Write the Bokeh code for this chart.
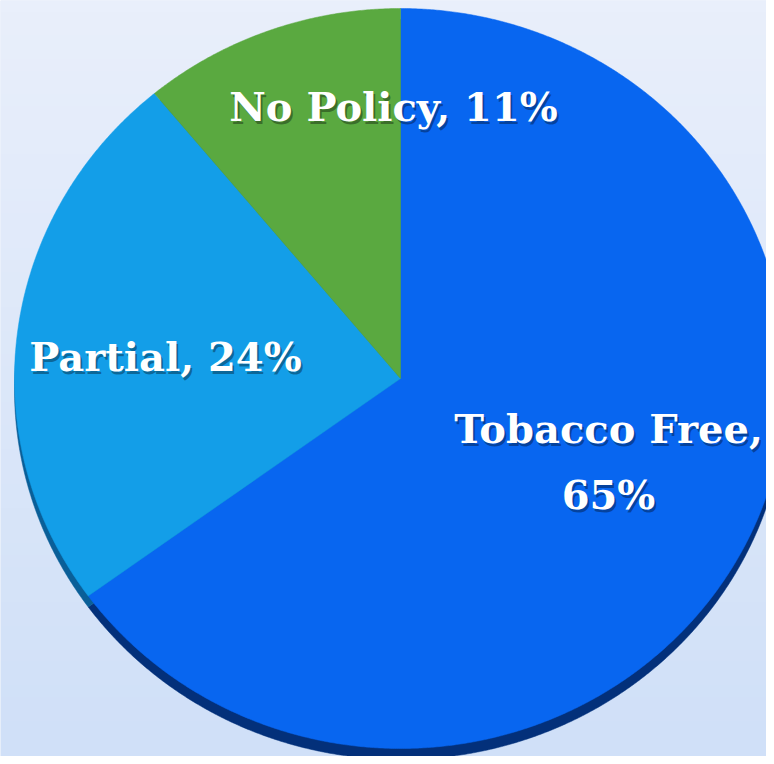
import numpy as np
from bokeh.plotting import figure
from bokeh.models import Range1d, ColumnDataSource
from bokeh.core.properties import value
from bokeh.embed import file_html
from bokeh.resources import INLINE

# ---- data ----
categories = ["Tobacco Free", "Partial", "No Policy"]
shares = [65, 24, 11]
labels = ["Tobacco Free,\n65%", "Partial, 24%", "No Policy, 11%"]
colors = ["#0866f0", "#139ee8", "#5aa940"]
side_colors = ["#03307a", "#0a5f98", "#2f6a22"]

W, H = 766, 756
p = figure(width=W, height=H, output_backend="svg", toolbar_location=None,
           x_range=Range1d(0, W), y_range=Range1d(0, H), min_border=0)
p.axis.visible = False
p.grid.visible = False
p.outline_line_color = None
p.background_fill_color = "#dde8f9"
p.border_fill_color = "#dde8f9"

# background vertical gradient
n = 64
top = np.array([233, 239, 251])
bot = np.array([208, 224, 248])
img = np.zeros((n, 1), dtype=np.uint32)
view = img.view(dtype=np.uint8).reshape((n, 1, 4))
for i in range(n):
    t = i / (n - 1)  # 0 bottom -> 1 top
    c = bot * (1 - t) + top * t
    view[i, 0, 0] = int(c[0]); view[i, 0, 1] = int(c[1]); view[i, 0, 2] = int(c[2]); view[i, 0, 3] = 255
p.image_rgba(image=[img], x=0, y=0, dw=W, dh=H)

# pie geometry (slightly elliptical, as in the tilted 3D original)
cx, cy, rx, ry = 400, H - 378, 386, 370
depth = 11
frac = np.array(shares, dtype=float) / sum(shares)
cum = np.concatenate([[0], np.cumsum(frac)])


def slice_xy(a0, a1, dy=0.0):
    th = np.linspace(a0, a1, max(8, int((a1 - a0) * 200)))
    xs = np.concatenate([[cx], cx + rx * np.sin(th), [cx]])
    ys = np.concatenate([[cy], cy + ry * np.cos(th), [cy]]) + dy
    return list(xs), list(ys)


face_x, face_y, side_x, side_y = [], [], [], []
for i in range(len(shares)):
    a0, a1 = 2 * np.pi * cum[i], 2 * np.pi * cum[i + 1]
    fx, fy = slice_xy(a0, a1)
    sx, sy = slice_xy(a0, a1, -depth)
    face_x.append(fx); face_y.append(fy)
    side_x.append(sx); side_y.append(sy)

src = ColumnDataSource(dict(cat=categories, fx=face_x, fy=face_y,
                            sx=side_x, sy=side_y,
                            color=colors, side=side_colors))

p.patches(xs="sx", ys="sy", fill_color="side", line_color="side",
          line_width=0.5, source=src)
p.patches(xs="fx", ys="fy", fill_color="color", line_color="color",
          line_width=0.5, source=src)

# labels
lab_x = [608, 165, 393]
lab_y = [H - 461, H - 356, H - 106]
font = value("DejaVu Serif")
common = dict(text_font=font, text_font_style="bold", text_font_size="40px",
              text_align="center", text_baseline="middle", text_line_height=1.42)
p.text(x=[x + 2 for x in lab_x], y=[y - 3 for y in lab_y], text=labels,
       text_color="#000000", text_alpha=0.35, **common)
p.text(x=lab_x, y=lab_y, text=labels, text_color="#ffffff", **common)

open("out.html", "w").write(file_html(p, INLINE))
